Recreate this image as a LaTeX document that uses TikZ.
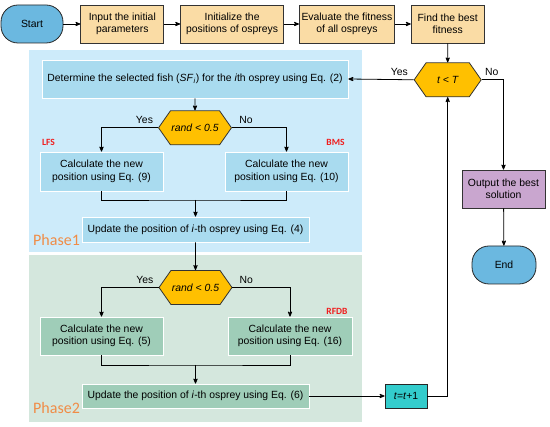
\documentclass[tikz,border=0pt]{standalone}
\usepackage{fontspec}
\setmainfont{Liberation Sans}
\newfontfamily\calib{Carlito}
\usetikzlibrary{calc,positioning,arrows,shapes.symbols}

\definecolor{termblue}{HTML}{6BB8E0}
\definecolor{stepsand}{HTML}{FADCA5}
\definecolor{condgold}{HTML}{FFC000}
\definecolor{outlilac}{HTML}{C9A6CF}
\definecolor{incrteal}{HTML}{33CCCC}
\definecolor{phaseoneback}{HTML}{CDEBFA}
\definecolor{phaseonebox}{HTML}{A9DBEF}
\definecolor{phasetwoback}{HTML}{D4E7DD}
\definecolor{phasetwobox}{HTML}{9FCDB8}
\definecolor{phasetext}{HTML}{F08C46}
\definecolor{tagred}{HTML}{F01E1E}

\begin{document}
\begin{tikzpicture}[x=1pt,y=-1pt,node distance=16pt,>=stealth',
  font=\fontsize{10.4}{12.5}\selectfont,
  term/.style={draw=black!85,fill=termblue,rounded corners=17pt,minimum width=62pt,minimum height=38pt,line width=0.8pt},
  topbox/.style={draw=black!80,fill=stepsand,align=center,minimum height=38pt,inner sep=1pt,line width=0.8pt},
  cond/.style={signal,signal to=east and west,signal pointer angle=110,draw=black!80,fill=condgold,minimum width=67pt,minimum height=34pt,inner sep=1pt,line width=0.8pt,font=\fontsize{10.4}{12.5}\selectfont\itshape},
  onebox/.style={draw=white,fill=phaseonebox,align=center,line width=0.8pt,inner sep=1pt},
  twobox/.style={draw=white,fill=phasetwobox,align=center,line width=0.8pt,inner sep=1pt},
  tag/.style={text=tagred,inner sep=0pt,font=\calib\bfseries\fontsize{9.5}{11}\selectfont},
  phaselabel/.style={text=phasetext,anchor=base west,inner sep=0pt,font=\calib\fontsize{16}{18}\selectfont},
  line/.style={line width=0.8pt}
]
    \useasboundingbox (0,0) rectangle (550,427);

    %Fonds des phases
    \fill[phaseoneback] (29,50) rectangle (362,252);
    \fill[phasetwoback] (29,255) rectangle (362,422);
    \node[phaselabel] (phaseone) at (33,246) {Phase1};
    \node[phaselabel] (phasetwo) at (33,414) {Phase2};

    %Ligne du haut
    \node[term] (start) at (32,24) {Start};
    \node[topbox,minimum width=83pt,right = 17pt of start] (input) {Input the initial\\parameters};
    \node[topbox,minimum width=103pt,right = of input] (init) {Initialize the\\positions of ospreys};
    \node[topbox,minimum width=95pt,right = 15pt of init] (eval) {Evaluate the fitness\\of all ospreys};
    \node[topbox,minimum width=73pt,right = of eval] (best) {Find the best\\fitness};
    \node[cond,below = 19pt of best] (loop) {t < T};

    %Sortie
    \node[topbox,fill=outlilac,minimum width=83pt,align=center] (output) at (503.5,189) {Output the best\\solution};
    \node[term,minimum width=64pt] (end) at (504,265) {End};

    %Phase 1
    \node[onebox,minimum width=306pt,minimum height=38pt] (select) at (195,79) {Determine the selected fish (\textit{SF}\textsubscript{\textit{i}}) for the \textit{i}th osprey using Eq. (2)};
    \node[cond,below = 12pt of select] (randone) {rand < 0.5};
    \node[onebox,minimum width=123pt,minimum height=39pt] (lfs) at (101.5,171.5) {Calculate the new\\position using Eq. (9)};
    \node[onebox,minimum width=123pt,minimum height=39pt] (bms) at (286.5,171.5) {Calculate the new\\position using Eq. (10)};
    \node[onebox,minimum width=227pt,minimum height=25pt] (updone) at (195.5,229.5) {Update the position of \textit{i}-th osprey using Eq. (4)};
    \node[tag] (lfstag) at (48.5,142) {LFS};
    \node[tag] (bmstag) at (335.5,142) {BMS};
    \coordinate (joinone) at (195.5,200);

    %Phase 2
    \node[cond] (randtwo) at (195.5,287.5) {rand < 0.5};
    \node[twobox,minimum width=123pt,minimum height=38pt] (eqfive) at (101.5,336) {Calculate the new\\position using Eq. (5)};
    \node[twobox,minimum width=124pt,minimum height=38pt] (rfdb) at (290,336) {Calculate the new\\position using Eq. (16)};
    \node[twobox,minimum width=227pt,minimum height=24pt] (updtwo) at (195.5,396) {Update the position of \textit{i}-th osprey using Eq. (6)};
    \node[tag] (rfdbtag) at (337,311) {RFDB};
    \coordinate (jointwo) at (195.5,365);
    \node[draw=black!85,fill=incrteal,minimum width=42pt,minimum height=24pt,inner sep=1pt,line width=0.8pt] (incr) at (406,396) {\textit{t}=\textit{t}+1};

    %Fleches
    \draw[line,->] (start) -- (input);
    \draw[line,->] (input) -- (init);
    \draw[line,->] (init) -- (eval);
    \draw[line,->] (eval) -- (best);
    \draw[line,->] (best) -- (loop);
    \draw[line,->] (loop.west) -- node[above,pos=0.22]{Yes} (select.east);
    \draw[line,->] (loop.east) -| node[above,pos=0.23]{No} (output.north);
    \draw[line,->] (output) -- (end);

    \draw[line,->] (select) -- (randone);
    \draw[line,->] (randone.west) -| node[above,pos=0.12]{Yes} (lfs.north);
    \draw[line,->] (randone.east) -| node[above,pos=0.13]{No} (bms.north);
    \draw[line] (lfs.south) |- (joinone) -| (bms.south);
    \draw[line,->] (joinone) -- (updone);
    \draw[line,->] (updone) -- (randtwo);

    \draw[line,->] (randtwo.west) -| node[above,pos=0.12]{Yes} (eqfive.north);
    \draw[line,->] (randtwo.east) -| node[above,pos=0.12]{No} (rfdb.north);
    \draw[line] (eqfive.south) |- (jointwo) -| (rfdb.south);
    \draw[line,->] (jointwo) -- (updtwo);
    \draw[line,->] (updtwo) -- (incr);
    \draw[line,->] (incr.east) -| (loop.south);

\end{tikzpicture}
\end{document}
